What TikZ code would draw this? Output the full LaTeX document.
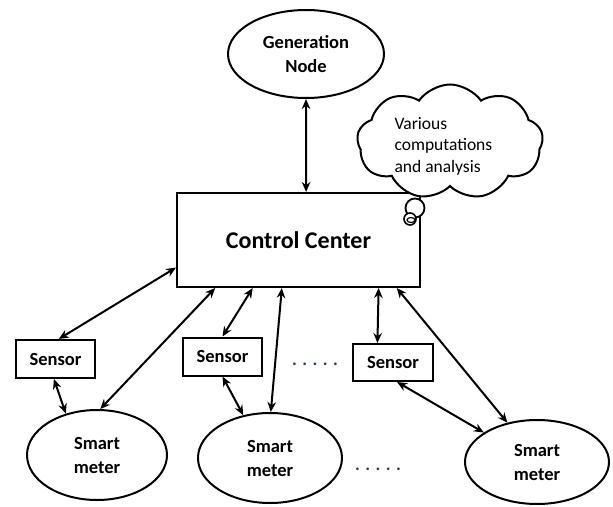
\documentclass[tikz,border=0pt]{standalone}
\usepackage{fontspec}
\setmainfont{Carlito}
\usetikzlibrary{shapes.geometric,shapes.symbols,arrows.meta,calc}
\definecolor{dotblue}{HTML}{2A3B6B}
\tikzset{
  lbl/.style={font=\fontsize{18.5}{24}\selectfont\bfseries, align=center},
  meter/.style={ellipse, draw, line width=2pt, inner sep=0pt, minimum width=142, minimum height=90, lbl},
  sensorbox/.style={rectangle, draw, line width=2pt, inner sep=0pt, minimum width=79, minimum height=38, lbl},
  link/.style={line width=2pt, {Stealth[length=10pt,width=8.5pt]}-{Stealth[length=10pt,width=8.5pt]}},
  dotrow/.style={text=dotblue, font=\fontsize{18}{20}\selectfont\bfseries},
}
\begin{document}
\begin{tikzpicture}[x=1pt,y=-1pt]
\useasboundingbox (0,0) rectangle (613,506);

% Control center
\node[rectangle, draw, line width=2pt, minimum width=243, minimum height=94, inner sep=0pt,
      font=\fontsize{24}{28}\selectfont\bfseries] (cc) at (298.5,240) {Control Center};

% Generation node
\node[ellipse, draw, line width=2pt, inner sep=0pt, minimum width=156, minimum height=88, lbl]
  (gen) at (306,54) {Generation\\Node};

% Cloud
\node[cloud, draw, fill=white, line width=2pt, cloud puffs=9, cloud puff arc=110, aspect=1.6,
      minimum width=186, minimum height=115, inner sep=0pt] (cloud) at (450,142) {};
\node[font=\fontsize{17.5}{21.5}\selectfont, align=left, anchor=west] (cloudtxt) at (391,146)
  {Various\\computations\\and analysis};
\node[circle, draw, fill=white, line width=1.8pt, minimum size=19, inner sep=0pt] (b1) at (415,208) {};
\node[circle, draw, fill=white, line width=1.6pt, minimum size=12, inner sep=0pt] (b2) at (410,219) {};
\node[ellipse, draw, line width=1.2pt, minimum width=8, minimum height=5, inner sep=0pt] (b3) at (411,220) {};

% Sensors
\node[sensorbox] (s1) at (55.5,359) {Sensor};
\node[sensorbox] (s2) at (222.5,356.5) {Sensor};
\node[sensorbox, minimum width=80, minimum height=37] (s3) at (393,362.5) {Sensor};

% Smart meters
\node[meter, minimum width=140] (m1) at (97,455) {Smart\\meter};
\node[meter, minimum width=144] (m2) at (270,458) {Smart\\meter};
\node[meter, minimum width=144, minimum height=84] (m3) at (537,462) {Smart\\meter};

% Dots
\node[dotrow] (d1) at (315,364) {. . . . .};
\node[dotrow] (d2) at (378,469) {. . . . .};

% Links
\draw[link] (gen.south) -- ($(cc.north west)!0.531!(cc.north east)$);
\draw[link] ($(cc.south west)!0.213!(cc.north west)$) -- ($(s1.north west)!0.54!(s1.north east)$);
\draw[link] ($(cc.south west)!0.16!(cc.south east)$) -- (m1.86);
\draw[link] ($(s1.south west)!0.48!(s1.south east)$) -- (m1.127);
\draw[link] ($(cc.south west)!0.313!(cc.south east)$) -- (s2.north);
\draw[link] ($(cc.south west)!0.432!(cc.south east)$) -- (m2.89);
\draw[link] (s2.south) -- (m2.122);
\draw[link] ($(cc.south west)!0.827!(cc.south east)$) -- ($(s3.north west)!0.31!(s3.north east)$);
\draw[link] ($(cc.south west)!0.901!(cc.south east)$) -- (m3.127);
\draw[link] ($(s3.south west)!0.55!(s3.south east)$) -- (m3.151);
\end{tikzpicture}
\end{document}
